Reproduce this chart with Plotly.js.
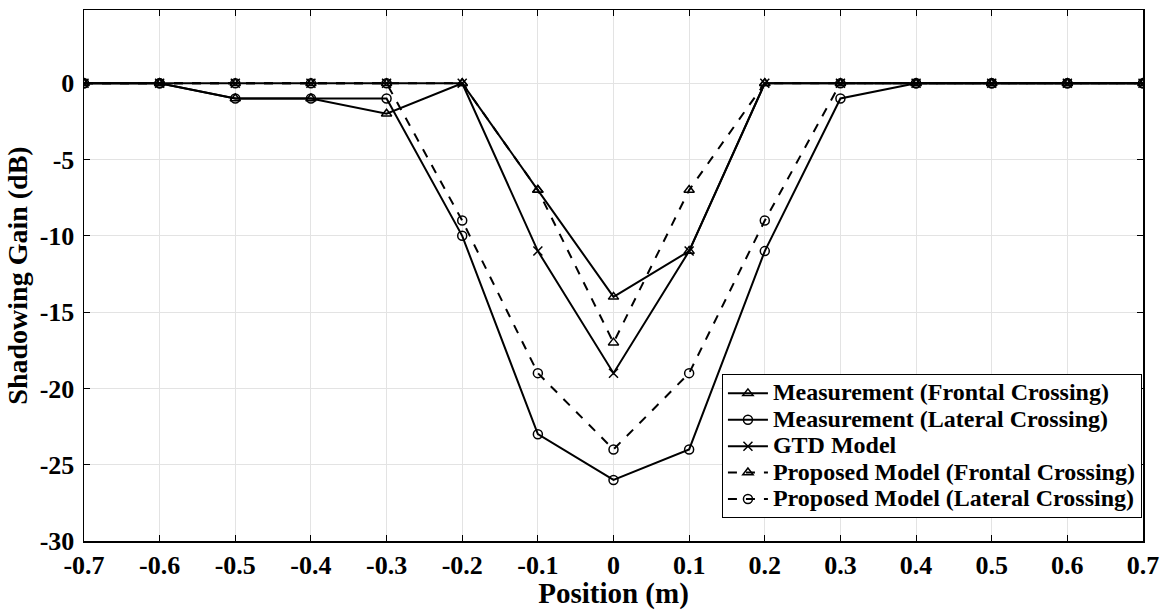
<!DOCTYPE html>
<html>
<head>
<meta charset="utf-8">
<script src="https://cdn.plot.ly/plotly-3.0.1.min.js"></script>
<style>html,body{margin:0;padding:0;background:#fff;}#chart{width:1168px;height:610px;}</style>
</head>
<body>
<div id="chart"></div>
<script>
const positions = [-0.7, -0.6, -0.5, -0.4, -0.3, -0.2, -0.1, 0, 0.1, 0.2, 0.3, 0.4, 0.5, 0.6, 0.7];
const measFrontal = [0, 0, -1, -1, -2, 0, -7, -14, -11, 0, 0, 0, 0, 0, 0];
const measLateral = [0, 0, -1, -1, -1, -10, -23, -26, -24, -11, -1, 0, 0, 0, 0];
const gtdModel = [0, 0, 0, 0, 0, 0, -11, -19, -11, 0, 0, 0, 0, 0, 0];
const propFrontal = [0, 0, 0, 0, 0, 0, -7, -17, -7, 0, 0, 0, 0, 0, 0];
const propLateral = [0, 0, 0, 0, 0, -9, -19, -24, -19, -9, 0, 0, 0, 0, 0];
const seriesNames = ['Measurement (Frontal Crossing)', 'Measurement (Lateral Crossing)', 'GTD Model', 'Proposed Model (Frontal Crossing)', 'Proposed Model (Lateral Crossing)'];
const xTicks = [-0.7, -0.6, -0.5, -0.4, -0.3, -0.2, -0.1, 0, 0.1, 0.2, 0.3, 0.4, 0.5, 0.6, 0.7];
const xTickText = ['-0.7', '-0.6', '-0.5', '-0.4', '-0.3', '-0.2', '-0.1', '0', '0.1', '0.2', '0.3', '0.4', '0.5', '0.6', '0.7'];
const yTicks = [-30, -25, -20, -15, -10, -5, 0];
const yTickText = ['-30', '-25', '-20', '-15', '-10', '-5', '0'];

function tr(y, name, dash, symbol) {
  return {
    x: positions, y: y, type: 'scatter', mode: 'lines+markers',
    name: '<span style="font-size:24px">' + name + '</span>',
    line: {color: '#000', width: 2, dash: dash},
    marker: {symbol: symbol, size: 9, color: '#000', line: {color: '#000', width: 1.5}}
  };
}
const data = [
  tr(measFrontal, seriesNames[0], 'solid', 'triangle-up-open'),
  tr(measLateral, seriesNames[1], 'solid', 'circle-open'),
  tr(gtdModel, seriesNames[2], 'solid', 'x-thin-open'),
  tr(propFrontal, seriesNames[3], 'dash', 'triangle-up-open'),
  tr(propLateral, seriesNames[4], 'dash', 'circle-open')
];
const fam = 'Liberation Serif, Times New Roman, serif';
const tickFont = {family: fam, size: 26, color: '#000', weight: 'bold'};
const layout = {
  width: 1168, height: 610,
  margin: {l: 84, r: 25, t: 10, b: 69},
  paper_bgcolor: '#fff', plot_bgcolor: '#fff',
  font: tickFont,
  showlegend: true,
  legend: {
    x: 0.999, xanchor: 'right', y: 0.043, yanchor: 'bottom',
    bgcolor: '#fff', bordercolor: '#000', borderwidth: 1,
    font: {family: fam, size: 18, color: '#000', weight: 'bold'},
    tracegroupgap: 0, itemwidth: 40
  },
  xaxis: {
    range: [-0.7, 0.7], tickvals: xTicks, ticktext: xTickText,
    ticks: 'inside', ticklen: 6, tickwidth: 1, tickcolor: '#000',
    showline: true, linecolor: '#000', linewidth: 1.5, mirror: 'ticks',
    showgrid: true, gridcolor: '#e3e3e3', gridwidth: 1, zeroline: false,
    ticklabelstandoff: 0, tickfont: tickFont,
    title: {text: 'Position (m)', font: {family: fam, size: 29, color: '#000', weight: 'bold'}, standoff: 0}
  },
  yaxis: {
    range: [-30, 4.8], tickvals: yTicks, ticktext: yTickText,
    ticks: 'inside', ticklen: 6, tickwidth: 1, tickcolor: '#000',
    showline: true, linecolor: '#000', linewidth: 1.5, mirror: 'ticks',
    showgrid: true, gridcolor: '#e3e3e3', gridwidth: 1, zeroline: false,
    ticklabelstandoff: 3, tickfont: tickFont,
    title: {text: 'Shadowing Gain (dB)', font: {family: fam, size: 28, color: '#000', weight: 'bold'}, standoff: 4}
  }
};
Plotly.newPlot('chart', data, layout, {displayModeBar: false, staticPlot: true});
</script>
</body>
</html>
